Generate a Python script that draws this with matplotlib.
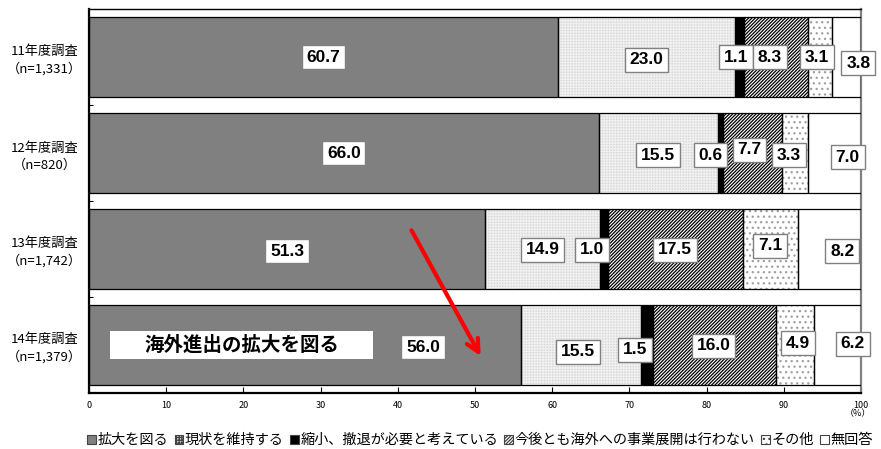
import matplotlib
matplotlib.use('Agg')
import matplotlib.pyplot as plt
from matplotlib.patches import Patch, Rectangle

plt.rcParams['font.family'] = ['Noto Sans CJK JP', 'DejaVu Sans']
plt.rcParams['hatch.linewidth'] = 0.9

surveys = ['11年度調査\n（n=1,331）', '12年度調査\n（n=820）',
           '13年度調査\n（n=1,742）', '14年度調査\n（n=1,379）']
answers = ['拡大を図る', '現状を維持する', '縮小、撤退が必要と考えている',
           '今後とも海外への事業展開は行わない', 'その他', '無回答']

expand = [60.7, 66.0, 51.3, 56.0]
keep = [23.0, 15.5, 14.9, 15.5]
shrink = [1.1, 0.6, 1.0, 1.5]
never = [8.3, 7.7, 17.5, 16.0]
other = [3.1, 3.3, 7.1, 4.9]
no_answer = [3.8, 7.0, 8.2, 6.2]
series = [expand, keep, shrink, never, other, no_answer]

# fill, hatch, hatch colour per answer
styles = [
    ('#808080', None, '#808080'),
    ('#d6d6d6', '++++++', '#f0f0f0'),
    ('#000000', None, '#000000'),
    ('#ffffff', '//////////', '#000000'),
    ('#ffffff', '...', '#a0a0a0'),
    ('#ffffff', None, '#ffffff'),
]

# label nudges in pixels (x right, y down)
nudge_x = [[0, 0, -3, -6, -3, 12],
           [0, 0, -10, -3, -6, 13],
           [0, 0, -12, 0, 0, 13],
           [118, -3, -12, -1, 3, 15]]
nudge_y = [[0, 3, 0, 0, 0, 6],
           [0, 2, 2, -3, 2, 4],
           [2, 1, 1, 1, -3, 2],
           [2, 7, 5, 1, -2, -1]]

num_font = ['Liberation Sans', 'DejaVu Sans']

fig = plt.figure(figsize=(8.81, 4.49), dpi=100)
ax = fig.add_axes([89 / 881, 56 / 449, 772 / 881, 384 / 449])

ypos = list(range(len(surveys)))
bar_h = 80 / 96
left = [0.0] * len(surveys)
for vals, (face, hatch, hcol) in zip(series, styles):
    ax.barh(ypos, vals, left=left, height=bar_h, color=face, hatch=hatch,
            edgecolor=hcol, linewidth=0, zorder=2)
    ax.barh(ypos, vals, left=left, height=bar_h, fill=False,
            edgecolor='black', linewidth=0.9, zorder=3)
    left = [l + v for l, v in zip(left, vals)]

# value boxes
for i in range(len(surveys)):
    start = 0.0
    for j, vals in enumerate(series):
        v = vals[i]
        ax.annotate(f'{v:.1f}', xy=(start + v / 2, i),
                    xytext=(nudge_x[i][j] * 0.72, -nudge_y[i][j] * 0.72),
                    textcoords='offset points', ha='center', va='center',
                    fontsize=12.5, fontweight='bold', family=num_font,
                    bbox=dict(boxstyle='square,pad=0.28', fc='white',
                              ec='#808080', lw=1.0), zorder=5,
                    annotation_clip=False)
        start += v

# callout for the 14年度 expansion share
ax.add_patch(Rectangle((2.7, 3.0 - 0.15), 34.1, 0.30, facecolor='white',
                       edgecolor='none', zorder=4))
ax.text(19.75, 3.0, '海外進出の拡大を図る', ha='center', va='center',
        fontsize=14, fontweight='bold', zorder=5)
ax.annotate('', xy=(50.9, 3.14), xytext=(41.6, 1.78),
            arrowprops=dict(arrowstyle='->,head_length=0.9,head_width=0.45',
                            color='#ff0000', lw=3), zorder=6)

ax.set_xlim(0, 100)
ax.set_ylim(len(surveys) - 0.5, -0.5)
ax.set_xticks(range(0, 101, 10))
ax.tick_params(axis='x', direction='in', length=4, width=0.8, labelsize=6.5,
               pad=6)
ax.set_yticks(ypos)
ax.set_yticklabels(surveys, fontsize=9.5, ha='center', linespacing=1.4)
ax.tick_params(axis='y', length=0, pad=32)
ax.set_yticks([0.5, 1.5, 2.5], minor=True)
ax.tick_params(axis='y', which='minor', direction='in', length=3, width=0.8)

for name in ['left', 'bottom']:
    ax.spines[name].set_linewidth(1.6)
    ax.spines[name].set_color('black')
ax.spines['top'].set_linewidth(1.0)
ax.spines['right'].set_color('#808080')
ax.spines['right'].set_linewidth(1.6)

fig.text(858 / 881, 1 - 414 / 449, '（%）', ha='center', va='center',
         fontsize=6.5)

handles = [Patch(facecolor=f, hatch=h, edgecolor='#444444', linewidth=0.8)
           for f, h, _ in styles]
fig.legend(handles, answers, loc='center', ncol=6,
           bbox_to_anchor=(480 / 881, 1 - 440 / 449), frameon=False,
           fontsize=10.2, handlelength=0.6, handleheight=0.6,
           handletextpad=0.12, columnspacing=0.45, borderaxespad=0)

fig.savefig('out.png', dpi=100, facecolor='white')
